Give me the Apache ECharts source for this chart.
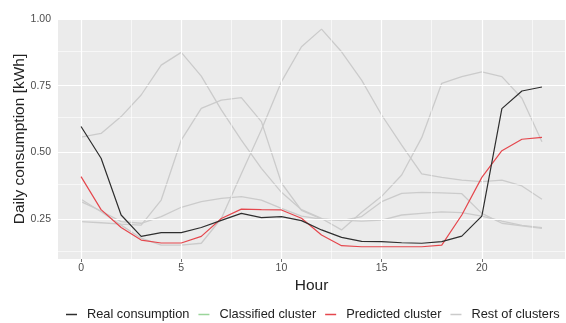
<!DOCTYPE html>
<html>
<head>
<meta charset="utf-8">
<script src="https://cdn.jsdelivr.net/npm/echarts@6/dist/echarts.min.js"></script>
<style>
  html, body { margin: 0; padding: 0; background: #ffffff; }
  #chart { width: 566px; height: 323px; }
</style>
</head>
<body>
<div id="chart"></div>
<script>
// Hourly profile of daily consumption (kWh)
const hours = [0, 1, 2, 3, 4, 5, 6, 7, 8, 9, 10, 11, 12, 13, 14, 15, 16, 17, 18, 19, 20, 21, 22, 23];

const realConsumption = [0.597, 0.478, 0.265, 0.185, 0.199, 0.199, 0.218, 0.245, 0.271, 0.255, 0.259, 0.244,
                         0.209, 0.181, 0.166, 0.165, 0.161, 0.159, 0.165, 0.186, 0.261, 0.664, 0.730, 0.745];
const classifiedCluster = [];
const predictedCluster = [0.409, 0.285, 0.218, 0.171, 0.160, 0.160, 0.185, 0.252, 0.287, 0.285, 0.284, 0.253,
                          0.190, 0.150, 0.146, 0.146, 0.146, 0.146, 0.152, 0.265, 0.406, 0.506, 0.549, 0.556];

// remaining cluster centroids
const restA = [0.557, 0.571, 0.634, 0.715, 0.827, 0.875, 0.786, 0.659, 0.546, 0.440, 0.350, 0.285,
               0.252, 0.209, 0.275, 0.335, 0.415, 0.555, 0.759, 0.784, 0.802, 0.784, 0.703, 0.540];
const restB = [0.240, 0.236, 0.231, 0.227, 0.321, 0.546, 0.665, 0.696, 0.705, 0.615, 0.385, 0.282,
               0.250, 0.244, 0.259, 0.315, 0.346, 0.350, 0.348, 0.345, 0.271, 0.234, 0.224, 0.215];
const restC = [0.324, 0.277, 0.227, 0.178, 0.152, 0.152, 0.159, 0.252, 0.420, 0.585, 0.765, 0.896,
               0.962, 0.877, 0.771, 0.640, 0.527, 0.419, 0.406, 0.396, 0.390, 0.396, 0.374, 0.324];
const restD = [0.315, 0.280, 0.240, 0.234, 0.259, 0.294, 0.315, 0.327, 0.334, 0.321, 0.290, 0.261,
               0.249, 0.246, 0.242, 0.246, 0.265, 0.271, 0.277, 0.274, 0.261, 0.242, 0.226, 0.218];
const restOfClusters = [restA, restB, restC, restD];

// axis breaks
const xBreaks = [0, 5, 10, 15, 20];
const xMinorBreaks = [2.5, 7.5, 12.5, 17.5, 22.5];
const yBreaks = [0.25, 0.5, 0.75, 1.0];
const yMinorBreaks = [0.125, 0.375, 0.625, 0.875];

const legendNames = ['Real consumption', 'Classified cluster', 'Predicted cluster', 'Rest of clusters'];

const toPairs = (arr) => arr.map((v, i) => [hours[i], v]);

const FONT = '"Liberation Sans", Arial, Helvetica, sans-serif';

function lineSeries(name, values, color, width, z) {
  return {
    name: name,
    type: 'line',
    data: toPairs(values),
    showSymbol: false,
    symbol: 'none',
    z: z,
    silent: true,
    itemStyle: { color: color },
    lineStyle: { color: color, width: width },
    emphasis: { disabled: true },
    animation: false
  };
}

// white panel grid lines, major and minor
const gridLines = [];
xBreaks.forEach(v => gridLines.push({ xAxis: v, lineStyle: { width: 1.2 } }));
xMinorBreaks.forEach(v => gridLines.push({ xAxis: v, lineStyle: { width: 0.6 } }));
yBreaks.forEach(v => gridLines.push({ yAxis: v, lineStyle: { width: 1.2 } }));
yMinorBreaks.forEach(v => gridLines.push({ yAxis: v, lineStyle: { width: 0.6 } }));

const series = [
  {
    name: 'panel-grid',
    type: 'line',
    data: [],
    z: 1,
    silent: true,
    animation: false,
    markLine: {
      silent: true,
      animation: false,
      symbol: ['none', 'none'],
      label: { show: false },
      emphasis: { disabled: true },
      lineStyle: { color: '#ffffff', type: 'solid', width: 1 },
      data: gridLines
    }
  }
];
restOfClusters.forEach(r => series.push(lineSeries('Rest of clusters', r, '#cbcbcb', 1.3, 3)));
series.push(lineSeries('Classified cluster', classifiedCluster, '#9bd59b', 1.2, 4));
series.push(lineSeries('Predicted cluster', predictedCluster, '#e5474d', 1.2, 5));
series.push(lineSeries('Real consumption', realConsumption, '#2e2e2e', 1.2, 6));

const chart = echarts.init(document.getElementById('chart'), null, { renderer: 'canvas' });
chart.setOption({
  animation: false,
  backgroundColor: '#ffffff',
  textStyle: { fontFamily: FONT },
  grid: {
    left: 58, right: 1, top: 19, bottom: 64,
    outerBoundsMode: 'none',
    containLabel: false,
    show: true, backgroundColor: '#EBEBEB', borderWidth: 0
  },
  legend: {
    data: legendNames,
    left: 66,
    top: 308,
    width: 500,
    padding: 0,
    icon: 'rect',
    itemWidth: 11,
    itemHeight: 1.5,
    itemGap: 9,
    selectedMode: false,
    textStyle: { fontFamily: FONT, fontSize: 12.8, color: '#222222', padding: [0, 0, 0, 5] }
  },
  xAxis: {
    type: 'value',
    min: -1.15,
    max: 24.15,
    name: 'Hour',
    nameLocation: 'middle',
    nameGap: 19,
    nameMoveOverlap: false,
    nameTextStyle: { fontFamily: FONT, fontSize: 15.5, color: '#222222' },
    axisLine: { show: false },
    axisTick: { show: true, length: 3, customValues: xBreaks, lineStyle: { color: '#4D4D4D', width: 0.8 } },
    axisLabel: { customValues: xBreaks, color: '#4D4D4D', fontSize: 10.5, margin: 4, fontFamily: FONT },
    splitLine: { show: false }
  },
  yAxis: {
    type: 'value',
    min: 0.1,
    max: 1.0,
    name: 'Daily consumption [kWh]',
    nameLocation: 'middle',
    nameGap: 30,
    nameMoveOverlap: false,
    nameRotate: 90,
    nameTextStyle: { fontFamily: FONT, fontSize: 15.5, color: '#222222' },
    axisLine: { show: false },
    axisTick: { show: true, length: 3, customValues: yBreaks, lineStyle: { color: '#4D4D4D', width: 0.8 } },
    axisLabel: {
      customValues: yBreaks,
      color: '#4D4D4D', fontSize: 10.5, margin: 7, fontFamily: FONT,
      formatter: (v) => Number(v).toFixed(2)
    },
    splitLine: { show: false }
  },
  series: series
});
</script>
</body>
</html>
